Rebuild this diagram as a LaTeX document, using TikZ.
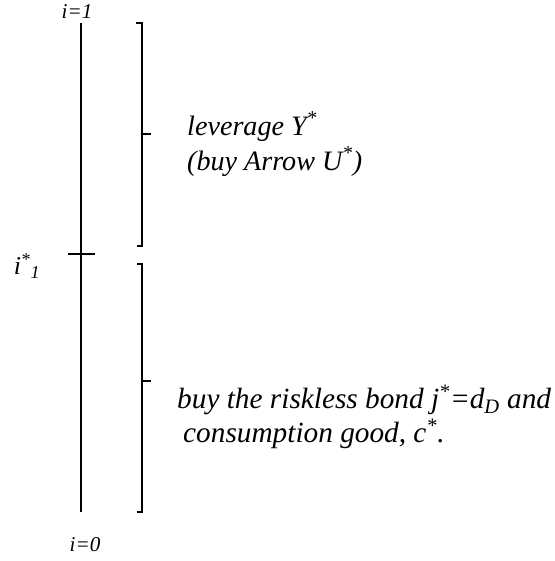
\documentclass[tikz,border=0pt]{standalone}
\usepackage{fontspec}
\setmainfont{Liberation Serif}
\usepackage{tikz}
\usetikzlibrary{positioning}
\tikzstyle{axis} = [line width=0.07cm, draw=black]
\tikzstyle{bracket} = [line width=0.07cm, draw=black]
\tikzstyle{endlabel} = [inner sep=0pt, font=\fontsize{18}{20}\selectfont\itshape]
\tikzstyle{cutlabel} = [inner sep=0pt, font=\fontsize{22}{24}\selectfont\itshape]
\tikzstyle{choice} = [inner sep=0pt, align=left, font=\fontsize{24}{30}\selectfont\itshape]

\begin{document}
\begin{tikzpicture}[x=0.03cm, y=-0.03cm]
    \useasboundingbox (0,0) rectangle (554,561);
    \coordinate (top) at (81,23);
    \coordinate (bottom) at (81,512);
    \coordinate (cutl) at (68,254);
    \coordinate (cutr) at (95,254);
    \node (one) [endlabel] at (77,12) {i=1};
    \node (zero) [endlabel] at (85,545) {i=0};
    \node (cut) [cutlabel] at (27,266) {i\textsuperscript{*}\textsubscript{1}};
    \node (lev) [choice, anchor=west] at (187,144) {leverage Y\textsuperscript{*}\\(buy Arrow U\textsuperscript{*})};
    \node (bond) [choice, anchor=west, font=\fontsize{25}{29}\selectfont\itshape] at (177,417) {buy the riskless bond j\textsuperscript{*}=d\textsubscript{D} and\\\hspace{0.18cm}consumption good, c\textsuperscript{*}.};

    \draw [axis] (top) -- (bottom);
    \draw [axis] (cutl) -- (cutr);
    % upper bracket
    \draw [bracket] (136,23) -- (142,23) -- (142,246) -- (137,246);
    \draw [bracket] (142,134) -- (151,134);
    % lower bracket
    \draw [bracket] (137,264) -- (142,264) -- (142,512) -- (137,512);
    \draw [bracket] (142,381) -- (151,381);
\end{tikzpicture}
\end{document}
